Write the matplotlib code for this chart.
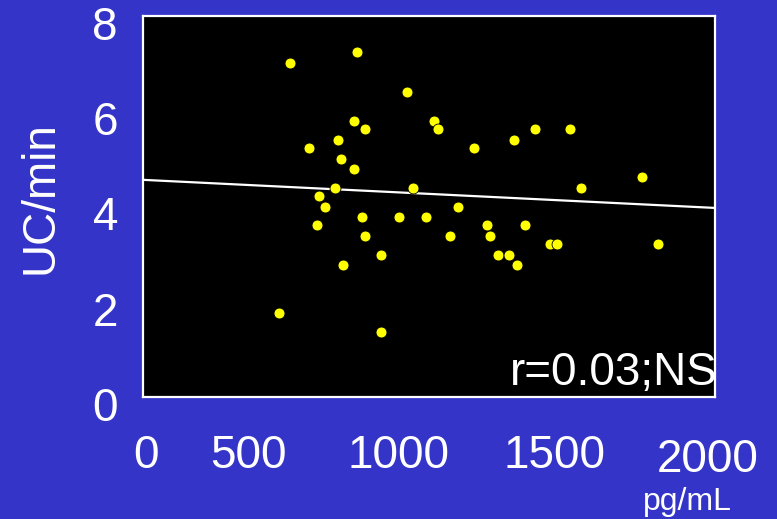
import matplotlib
matplotlib.use("Agg")
import matplotlib.pyplot as plt
from matplotlib.transforms import ScaledTranslation

plt.rcParams["font.family"] = ["Liberation Sans", "DejaVu Sans"]

# Hormone level (pg/mL) vs uterine contraction frequency (UC/min)
conc_pg_ml = [514, 747, 924, 1016, 1033, 738, 775, 682, 579, 691, 738, 672, 943,
              616, 635, 1157, 1297, 1372, 1493, 1745, 1530, 1101, 766, 896, 990,
              607, 775, 831, 700, 477, 831, 1204, 1335, 1073, 1213, 1241, 1279,
              1307, 1423, 1447, 1801]
uc_per_min = [7.02, 7.24, 6.40, 5.80, 5.62, 5.79, 5.62, 5.40, 5.23, 5.00, 4.78,
              4.39, 4.39, 4.22, 4.00, 5.23, 5.40, 5.62, 5.62, 4.61, 4.39, 4.00,
              3.77, 3.77, 3.77, 3.61, 3.38, 2.99, 2.77, 1.76, 1.36, 3.61, 3.61,
              3.38, 3.38, 2.99, 2.99, 2.77, 3.21, 3.21, 3.21]

# Regression line endpoints
fit_x = [0, 2000]
fit_y = [4.56, 3.97]

x_ticks = [0, 500, 1000, 1500, 2000]
x_tick_labels = ["0", "500", "1000", "1500", "2000"]
y_ticks = [0, 2, 4, 6, 8]
y_tick_labels = ["0", "2", "4", "6", "8"]

BG = "#3434C9"
W, H, DPI = 777, 519, 100

fig = plt.figure(figsize=(W / DPI, H / DPI), dpi=DPI, facecolor=BG)
ax = fig.add_axes([143 / W, (H - 397) / H, 572 / W, 381 / H], facecolor="black")

ax.plot(fit_x, fit_y, color="white", lw=1.6, zorder=2)
ax.scatter(conc_pg_ml, uc_per_min, s=62, c="#FFFF00", edgecolors="black",
           linewidths=0.6, zorder=3)

ax.set_xlim(0, 2000)
ax.set_ylim(0, 8)

for sp in ax.spines.values():
    sp.set_color("white")
    sp.set_linewidth(1.6)

ax.set_xticks(x_ticks)
ax.set_xticklabels(x_tick_labels)
ax.set_yticks(y_ticks)
ax.set_yticklabels(y_tick_labels)
ax.tick_params(axis="both", length=0, colors="white", labelsize=33)
ax.tick_params(axis="x", pad=27)
ax.tick_params(axis="y", pad=18)

# Hand-set label placement (pixel shifts)
x_shift = [3, -38, -31, -18, -7]
x_drop = [0, 0, 0, 0, 3]
for lbl, dx, dy in zip(ax.get_xticklabels(), x_shift, x_drop):
    lbl.set_transform(lbl.get_transform() +
                      ScaledTranslation(dx / DPI, -dy / DPI, fig.dpi_scale_trans))
for lbl in ax.get_yticklabels():
    lbl.set_transform(lbl.get_transform() +
                      ScaledTranslation(0, -7 / DPI, fig.dpi_scale_trans))

ax.text(0.642, 0.031, "r=0.03;NS", transform=ax.transAxes, color="white",
        fontsize=33, ha="left", va="baseline", clip_on=False, zorder=4)

fig.text(40 / W, 1 - 198 / H, "UC/min", rotation=90, color="white",
         fontsize=33, ha="center", va="center")
fig.text(687 / W, 1 - 510 / H, "pg/mL", color="white", fontsize=23,
         ha="center", va="baseline")

fig.savefig("out.png", dpi=DPI, facecolor=BG)
